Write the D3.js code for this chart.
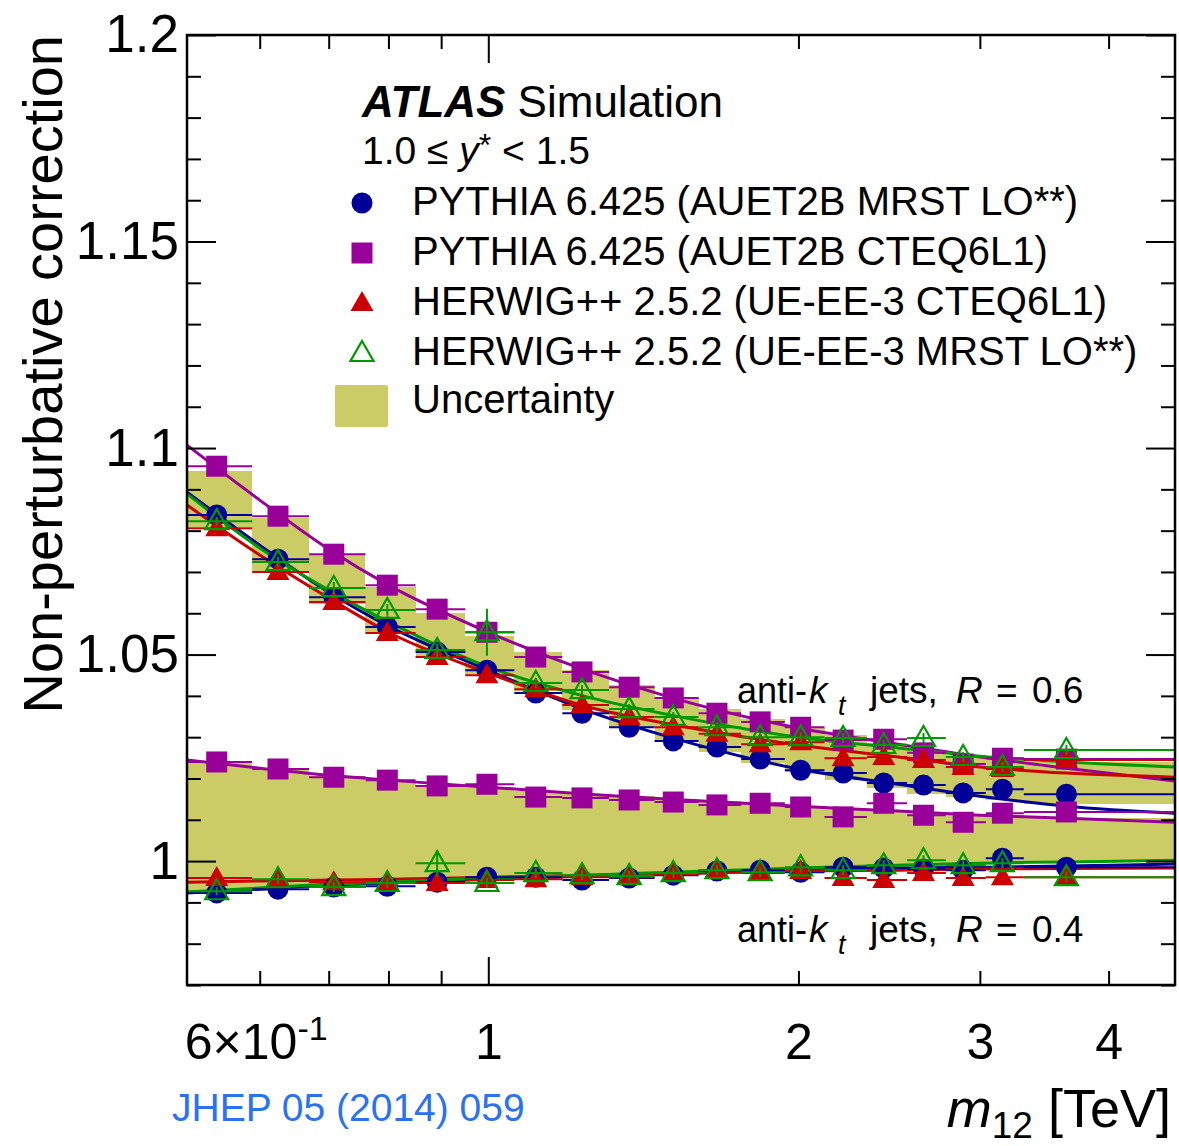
<!DOCTYPE html>
<html>
<head>
<meta charset="utf-8">
<script src="https://cdn.jsdelivr.net/npm/d3@7/dist/d3.min.js"></script>
<style>
  html, body { margin: 0; padding: 0; background: #fff; }
  svg { display: block; font-family: "Liberation Sans", Arial, Helvetica, sans-serif; }
</style>
</head>
<body>
<svg id="chart" width="1179" height="1146"></svg>
<script>
// ---- m12 binning [TeV] and point positions ----
const binEdges = [0.51, 0.59, 0.67, 0.76, 0.85, 0.95, 1.06, 1.18, 1.31, 1.45, 1.60,
                  1.76, 1.94, 2.12, 2.33, 2.55, 2.78, 3.04, 3.31, 4.64];
const m12 = [0.545, 0.625, 0.708, 0.798, 0.892, 0.997, 1.112, 1.233, 1.370, 1.512,
             1.667, 1.836, 2.010, 2.210, 2.420, 2.645, 2.890, 3.155, 3.640];

// ---- anti-kt R = 0.6 ----
const pyMrst06 = [1.0838, 1.0731, 1.0639, 1.0567, 1.0506, 1.0462, 1.0407, 1.0358, 1.0324, 1.0291,
                  1.0276, 1.0247, 1.0220, 1.0213, 1.0189, 1.0184, 1.0165, 1.0174, 1.0162];
const pyCteq06 = [1.0956, 1.0835, 1.0743, 1.0668, 1.0610, 1.0554, 1.0494, 1.0458, 1.0421, 1.0395,
                  1.0358, 1.0337, 1.0324, 1.0293, 1.0295, 1.0262, 1.0235, 1.0249, 1.0247];
const hwCteq06 = [1.0806, 1.0700, 1.0627, 1.0552, 1.0494, 1.0450, 1.0416, 1.0378, 1.0349, 1.0324,
                  1.0308, 1.0283, 1.0288, 1.0249, 1.0252, 1.0245, 1.0228, 1.0223, 1.0245];
const hwMrst06 = [1.0823, 1.0724, 1.0661, 1.0608, 1.0511, 1.0554, 1.0431, 1.0414, 1.0368, 1.0349,
                  1.0324, 1.0300, 1.0300, 1.0298, 1.0281, 1.0298, 1.0252, 1.0228, 1.0269];

// ---- anti-kt R = 0.4 ----
const pyMrst04 = [0.9923, 0.9932, 0.9937, 0.9939, 0.9949, 0.9961, 0.9961, 0.9954, 0.9959, 0.9966,
                  0.9976, 0.9978, 0.9973, 0.9985, 0.9983, 0.9981, 0.9978, 1.0007, 0.9985];
const pyCteq04 = [1.0240, 1.0223, 1.0203, 1.0196, 1.0182, 1.0186, 1.0155, 1.0153, 1.0148, 1.0143,
                  1.0136, 1.0140, 1.0131, 1.0107, 1.0140, 1.0111, 1.0094, 1.0116, 1.0119];
const hwCteq04 = [0.9959, 0.9954, 0.9949, 0.9949, 0.9947, 0.9954, 0.9956, 0.9961, 0.9961, 0.9969,
                  0.9978, 0.9971, 0.9976, 0.9959, 0.9954, 0.9971, 0.9959, 0.9961, 0.9961];
const hwMrst04 = [0.9927, 0.9956, 0.9937, 0.9947, 0.9995, 0.9947, 0.9971, 0.9966, 0.9964, 0.9971,
                  0.9978, 0.9973, 0.9985, 0.9978, 0.9990, 1.0002, 0.9990, 0.9995, 0.9961];

// ---- statistical errors (symmetric) ----
const errPy = [0.0006, 0.0006, 0.0006, 0.0006, 0.0006, 0.0007, 0.0007, 0.0007, 0.0007, 0.0008,
               0.0008, 0.0008, 0.0009, 0.0009, 0.0010, 0.0010, 0.0011, 0.0012, 0.0012];
const errHwMrst06 = [0.0010, 0.0012, 0.0015, 0.0014, 0.0016, 0.0057, 0.0012, 0.0012, 0.0012, 0.0012,
                     0.0012, 0.0012, 0.0012, 0.0012, 0.0012, 0.0012, 0.0012, 0.0012, 0.0012];
const errHwMrst04 = [0.0010, 0.0012, 0.0012, 0.0012, 0.0032, 0.0012, 0.0012, 0.0012, 0.0012, 0.0012,
                     0.0012, 0.0012, 0.0012, 0.0012, 0.0012, 0.0012, 0.0012, 0.0012, 0.0012];

// ---- fitted parametrisations, sampled at m12 nodes ----
const fitX = [0.51, 0.60, 0.70, 0.80, 1.00, 1.25, 1.50, 2.00, 2.50, 3.00, 3.64, 4.64];
const fitPyMrst06 = [1.0893, 1.0765, 1.0651, 1.0569, 1.0462, 1.0363, 1.0300, 1.0223, 1.0186, 1.0157, 1.0133, 1.0116];
const fitPyCteq06 = [1.1007, 1.0874, 1.0755, 1.0668, 1.0554, 1.0460, 1.0397, 1.0322, 1.0283, 1.0252, 1.0225, 1.0194];
const fitHwCteq06 = [1.0862, 1.0741, 1.0637, 1.0554, 1.0455, 1.0373, 1.0332, 1.0281, 1.0252, 1.0228, 1.0213, 1.0203];
const fitHwMrst06 = [1.0889, 1.0758, 1.0656, 1.0579, 1.0470, 1.0397, 1.0354, 1.0300, 1.0274, 1.0254, 1.0240, 1.0228];
const fitPyMrst04 = [0.9923, 0.9932, 0.9942, 0.9947, 0.9956, 0.9964, 0.9969, 0.9978, 0.9983, 0.9985, 0.9988, 0.9993];
const fitPyCteq04 = [1.0245, 1.0225, 1.0208, 1.0196, 1.0179, 1.0162, 1.0150, 1.0133, 1.0121, 1.0111, 1.0104, 1.0094];
const fitHwCteq04 = [0.9949, 0.9952, 0.9954, 0.9956, 0.9961, 0.9966, 0.9970, 0.9976, 0.9978, 0.9981, 0.9982, 0.9983];
const fitHwMrst04 = [0.9925, 0.9935, 0.9944, 0.9949, 0.9959, 0.9966, 0.9973, 0.9983, 0.9990, 0.9995, 0.9998, 1.0002];

// ---- uncertainty envelope per bin ----
const band06Hi = [1.0944, 1.0831, 1.0741, 1.0663, 1.0601, 1.0545, 1.0506, 1.0462, 1.0426, 1.0395,
                  1.0368, 1.0344, 1.0322, 1.0305, 1.0286, 1.0269, 1.0257, 1.0249, 1.0240];
const band06Lo = [1.0809, 1.0700, 1.0622, 1.0552, 1.0496, 1.0450, 1.0412, 1.0366, 1.0324, 1.0291,
                  1.0264, 1.0237, 1.0215, 1.0196, 1.0177, 1.0162, 1.0155, 1.0148, 1.0138];
const band04Hi = [1.0240, 1.0223, 1.0206, 1.0194, 1.0184, 1.0179, 1.0169, 1.0162, 1.0157, 1.0150,
                  1.0145, 1.0140, 1.0133, 1.0128, 1.0123, 1.0119, 1.0114, 1.0111, 1.0104];
const band04Lo = [0.9925, 0.9935, 0.9939, 0.9944, 0.9949, 0.9954, 0.9959, 0.9961, 0.9964, 0.9969,
                  0.9973, 0.9976, 0.9978, 0.9983, 0.9985, 0.9988, 0.9990, 0.9993, 0.9998];

// ---- axes ----
const xMinor = [0.6, 0.7, 0.8, 0.9, 2, 3, 4];
const xMajor = [1];
const xLabelled = [0.6, 1, 2, 3, 4];
const yMajor = [1.0, 1.05, 1.1, 1.15, 1.2];
const yMinor = [0.97, 0.98, 0.99, 1.01, 1.02, 1.03, 1.04, 1.06, 1.07, 1.08, 1.09,
                1.11, 1.12, 1.13, 1.14, 1.16, 1.17, 1.18, 1.19];
const yLabels = ["1", "1.05", "1.1", "1.15", "1.2"];

const legendLabels = [
  "PYTHIA 6.425 (AUET2B MRST LO**)",
  "PYTHIA 6.425 (AUET2B CTEQ6L1)",
  "HERWIG++ 2.5.2 (UE-EE-3 CTEQ6L1)",
  "HERWIG++ 2.5.2 (UE-EE-3 MRST LO**)",
  "Uncertainty"
];

const COL = { blue: "#000099", purple: "#990099", red: "#cc0000", green: "#009900", band: "#cccc66" };

const svg = d3.select("#chart");
const L = 187, R = 1175, T = 35, B = 985;

const x = d3.scaleLog().domain([0.51, 4.64]).range([L, R]);
const y = d3.scaleLinear().domain([0.97, 1.2]).range([B, T]);

// uncertainty boxes
const bins = d3.range(binEdges.length - 1);
function drawBand(lo, hi) {
  svg.append("g").selectAll("rect").data(bins).join("rect")
    .attr("x", i => x(binEdges[i]))
    .attr("width", i => x(binEdges[i + 1]) - x(binEdges[i]))
    .attr("y", i => y(hi[i]))
    .attr("height", i => y(lo[i]) - y(hi[i]))
    .attr("fill", COL.band)
    .attr("shape-rendering", "crispEdges");
}
drawBand(band06Lo, band06Hi);
drawBand(band04Lo, band04Hi);

// series definitions
const series = [
  { vals06: pyMrst06, vals04: pyMrst04, err06: errPy, err04: errPy, fit06: fitPyMrst06, fit04: fitPyMrst04, color: COL.blue, shape: "circle" },
  { vals06: pyCteq06, vals04: pyCteq04, err06: errPy, err04: errPy, fit06: fitPyCteq06, fit04: fitPyCteq04, color: COL.purple, shape: "square" },
  { vals06: hwCteq06, vals04: hwCteq04, err06: errPy, err04: errPy, fit06: fitHwCteq06, fit04: fitHwCteq04, color: COL.red, shape: "triangle" },
  { vals06: hwMrst06, vals04: hwMrst04, err06: errHwMrst06, err04: errHwMrst04, fit06: fitHwMrst06, fit04: fitHwMrst04, color: COL.green, shape: "opentriangle" }
];

function drawMarker(g, shape, color, cx, cy) {
  if (shape === "circle") {
    g.append("circle").attr("cx", cx).attr("cy", cy).attr("r", 10.5).attr("fill", color);
  } else if (shape === "square") {
    g.append("rect").attr("x", cx - 10.5).attr("y", cy - 10.5).attr("width", 21).attr("height", 21).attr("fill", color);
  } else {
    const h = 20, w = 23;
    const pts = [[cx, cy - h * 0.6], [cx + w / 2, cy + h * 0.4], [cx - w / 2, cy + h * 0.4]];
    g.append("path").attr("d", "M" + pts.map(p => p.join(",")).join("L") + "Z")
      .attr("fill", shape === "triangle" ? color : "none")
      .attr("stroke", shape === "triangle" ? "none" : color)
      .attr("stroke-width", shape === "triangle" ? 0 : 2.2);
  }
}

// fitted curves
const fitLine = d3.line().x(d => x(d[0])).y(d => y(d[1])).curve(d3.curveMonotoneX);
const gFits = svg.append("g").attr("fill", "none").attr("stroke-width", 3);
series.forEach(s => {
  [s.fit06, s.fit04].forEach(f => {
    gFits.append("path").attr("d", fitLine(fitX.map((m, i) => [m, f[i]]))).attr("stroke", s.color);
  });
});

// error bars and markers
series.forEach(s => {
  [[s.vals06, s.err06], [s.vals04, s.err04]].forEach(([vals, errs]) => {
    const g = svg.append("g");
    vals.forEach((v, i) => {
      g.append("line").attr("x1", x(binEdges[i])).attr("x2", x(binEdges[i + 1]))
        .attr("y1", y(v)).attr("y2", y(v)).attr("stroke", s.color).attr("stroke-width", 2);
      g.append("line").attr("x1", x(m12[i])).attr("x2", x(m12[i]))
        .attr("y1", y(v - errs[i])).attr("y2", y(v + errs[i])).attr("stroke", s.color).attr("stroke-width", 2);
      drawMarker(g, s.shape, s.color, x(m12[i]), y(v));
    });
  });
});

// frame
svg.append("rect").attr("x", L).attr("y", T).attr("width", R - L).attr("height", B - T)
  .attr("fill", "none").attr("stroke", "#000").attr("stroke-width", 2.5);

// tick marks and labels
function styleAxis(g) {
  g.select(".domain").remove();
  g.selectAll(".tick line").attr("stroke", "#000").attr("stroke-width", 2);
  g.selectAll("text").attr("fill", "#000").attr("font-family", "Liberation Sans, Arial, sans-serif");
}
svg.append("g").attr("transform", `translate(${L},0)`)
  .call(d3.axisLeft(y).tickValues(yMinor).tickSize(-14).tickFormat("")).call(styleAxis);
svg.append("g").attr("transform", `translate(${L},0)`)
  .call(d3.axisLeft(y).tickValues(yMajor).tickSize(-29).tickPadding(8)
    .tickFormat((d, i) => yLabels[i])).call(styleAxis)
  .selectAll("text").attr("font-size", 53);
svg.append("g").attr("transform", `translate(${R},0)`)
  .call(d3.axisRight(y).tickValues(yMinor).tickSize(-14).tickFormat("")).call(styleAxis);
svg.append("g").attr("transform", `translate(${R},0)`)
  .call(d3.axisRight(y).tickValues(yMajor).tickSize(-29).tickFormat("")).call(styleAxis);

svg.append("g").attr("transform", `translate(0,${B})`)
  .call(d3.axisBottom(x).tickValues(xMinor).tickSize(-14).tickPadding(38)
    .tickFormat(d => xLabelled.includes(d) ? String(d) : "")).call(styleAxis);
svg.append("g").attr("transform", `translate(0,${B})`)
  .call(d3.axisBottom(x).tickValues(xMajor).tickSize(-28).tickPadding(38)
    .tickFormat(d => String(d))).call(styleAxis);
svg.append("g").attr("transform", `translate(0,${T})`)
  .call(d3.axisTop(x).tickValues(xMinor).tickSize(-14).tickFormat("")).call(styleAxis);
svg.append("g").attr("transform", `translate(0,${T})`)
  .call(d3.axisTop(x).tickValues(xMajor).tickSize(-28).tickFormat("")).call(styleAxis);

svg.selectAll(".tick text").filter(function () { return this.textContent !== ""; })
  .each(function (d) {
    const t = d3.select(this);
    if (t.attr("dy") === "0.71em") t.attr("font-size", 50);
    if (d === 0.6) {
      t.attr("dx", -4);
      t.text(null);
      t.append("tspan").text("6\u00d710");
      t.append("tspan").attr("dy", "-0.55em").attr("font-size", 34).text("-1");
    }
  });

// axis titles
svg.append("text")
  .attr("transform", `translate(62,${T}) rotate(-90)`)
  .attr("text-anchor", "end").attr("font-size", 56).attr("fill", "#000")
  .text("Non-perturbative correction");

const xt = svg.append("text").attr("x", 1171).attr("y", 1127).attr("text-anchor", "end")
  .attr("font-size", 54).attr("fill", "#000");
xt.append("tspan").attr("font-style", "italic").text("m");
xt.append("tspan").attr("font-size", 37).attr("dy", 11).text("12");
xt.append("tspan").attr("dy", -11).text(" [TeV]");

svg.append("text").attr("x", 172).attr("y", 1121).attr("font-size", 39)
  .attr("fill", "#2a72f0").text("JHEP 05 (2014) 059");

// header and legend
const hdr = svg.append("text").attr("x", 362).attr("y", 117).attr("font-size", 44).attr("fill", "#000");
hdr.append("tspan").attr("font-weight", "bold").attr("font-style", "italic").text("ATLAS");
hdr.append("tspan").text(" Simulation");

const rap = svg.append("text").attr("x", 362).attr("y", 164).attr("font-size", 39).attr("fill", "#000");
rap.append("tspan").text("1.0 \u2264 ");
rap.append("tspan").attr("font-style", "italic").text("y");
rap.append("tspan").attr("font-size", 32).attr("dy", -8).text("*");
rap.append("tspan").attr("dy", 8).text(" < 1.5");

const legRowY = [215, 265, 315, 365, 413];
const legG = svg.append("g");
series.forEach((s, i) => drawMarker(legG, s.shape, s.color, 362, legRowY[i] - 12));
legG.append("rect").attr("x", 335).attr("y", 385).attr("width", 53).attr("height", 42)
  .attr("rx", 2).attr("fill", COL.band);
legendLabels.forEach((lab, i) => {
  legG.append("text").attr("x", 412).attr("y", legRowY[i]).attr("font-size", 40)
    .attr("fill", "#000").text(lab);
});

// jet-radius labels
function jetLabel(baseY, rVal) {
  const g = svg.append("g").attr("font-size", 37).attr("fill", "#000");
  g.append("text").attr("x", 737).attr("y", baseY).attr("font-size", 36).text("anti-");
  g.append("text").attr("x", 809).attr("y", baseY).attr("font-style", "italic").text("k");
  g.append("text").attr("x", 838).attr("y", baseY + 12).attr("font-size", 27).attr("font-style", "italic").text("t");
  g.append("text").attr("x", 870).attr("y", baseY).text("jets,");
  g.append("text").attr("x", 956).attr("y", baseY).attr("font-style", "italic").text("R");
  g.append("text").attr("x", 996).attr("y", baseY).text("=");
  g.append("text").attr("x", 1032).attr("y", baseY).text(rVal);
}
jetLabel(703, "0.6");
jetLabel(942, "0.4");
</script>
</body>
</html>
